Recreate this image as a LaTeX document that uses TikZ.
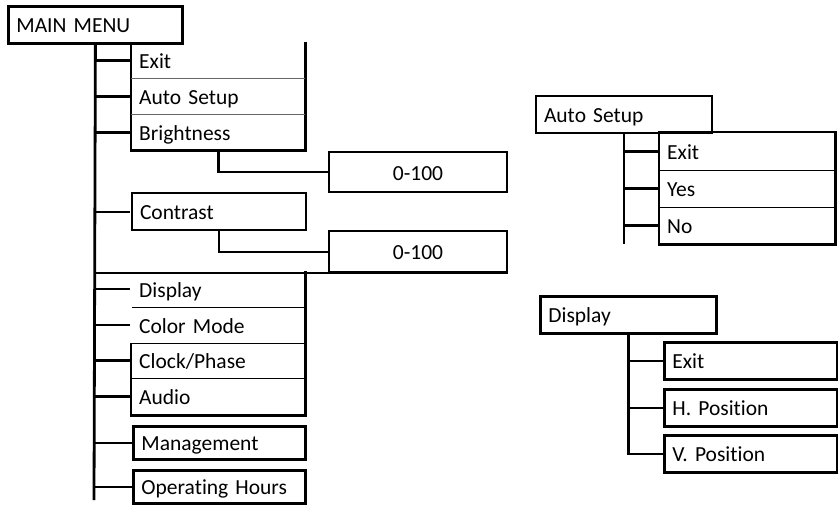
\documentclass[tikz,border=0pt]{standalone}
\usepackage{fontspec}
\setmainfont{Carlito}[Ligatures=NoCommon]
\usepackage{tikz}
\usetikzlibrary{positioning}

\begin{document}
\begin{tikzpicture}[x=1pt,y=-1pt,font=\fontsize{21.5}{24}\selectfont,
		heavy/.style={line width=2.8pt},
		medium/.style={line width=2pt},
		thin sep/.style={line width=1.5pt},
		grey sep/.style={draw=black!60,line width=1.5pt},
		entry/.style={rectangle,anchor=north west,inner xsep=8pt,inner ysep=0pt,text width=158pt,
			text height=18pt,text depth=2pt,minimum height=36pt,align=left}]
			
			\useasboundingbox (0,0) rectangle (838,504);
			
			\node[entry,draw,heavy,minimum height=37pt] (main) at (7,5) {MAIN MENU};
			\coordinate (trunkend) at (94,500);
			\draw[heavy] (main.south) -- (trunkend);
			
			\node[entry] (exit) at (131,42) {Exit};
			\node[entry] (autosetup) at (131,78) {Auto Setup};
			\node[entry] (brightness) at (131,114) {Brightness};
			\draw[heavy] (exit.north west) -- (brightness.south west) -- (brightness.south east) -- (exit.north east);
			\draw[grey sep] (exit.south west) -- (exit.south east);
			\draw[grey sep] (autosetup.south west) -- (autosetup.south east);
			
			\node[entry,draw,medium,text width=162pt,align=center,minimum height=40pt] (brightrange) at (328,151) {0-100};
			\draw[heavy] (brightness.south) -- (brightness.south |- brightrange.west) -- (brightrange.west);
			
			\node[entry,draw,medium,minimum height=37pt] (contrast) at (131,192) {Contrast};
			\node[entry,draw,medium,text width=162pt,align=center,minimum height=41pt] (contrastrange) at (328,230) {0-100};
			\draw[medium] (contrast.south) -- (contrast.south |- contrastrange.west) -- (contrastrange.west);
			\draw[heavy] (main.south |- contrastrange.south) -- (contrastrange.south east);
			
			\node[entry] (display) at (131,271) {Display};
			\node[entry] (colormode) at (131,307) {Color Mode};
			\node[entry,minimum height=35pt] (clockphase) at (131,343) {Clock/Phase};
			\node[entry,minimum height=37pt] (audio) at (131,378) {Audio};
			\draw[heavy] (display.north east) -- (audio.south east) -- (audio.south west) -- (clockphase.north west);
			\draw[thin sep] ([xshift=1pt]display.south west) -- (display.south east);
			\draw[thin sep] (colormode.south west) -- (colormode.south east);
			\draw[thin sep] (clockphase.south west) -- (clockphase.south east);
			
			\node[entry,draw,heavy,text width=156pt,minimum height=33pt] (management) at (132,425) {Management};
			\node[entry,draw,heavy,text width=156pt,minimum height=33pt] (ophours) at (132,469) {Operating Hours};
			
			\foreach \item in {exit,autosetup,brightness,clockphase,audio,management,ophours}
				\draw[heavy] (\item.west -| main.south) -- (\item.west);
			\foreach \item in {contrast,display,colormode}
				\draw[medium] (\item.west -| main.south) -- ([xshift=-1pt]\item.west);
			
			\node[entry,draw,medium,text width=160pt,minimum height=37pt] (autohead) at (535,95) {Auto Setup};
			\node[entry,text width=160pt,minimum height=38pt] (autoexit) at (659,132) {Exit};
			\node[entry,text width=160pt,minimum height=37pt] (autoyes) at (659,170) {Yes};
			\node[entry,text width=160pt,minimum height=37pt] (autono) at (659,207) {No};
			\draw[heavy] (autoexit.north west) rectangle (autono.south east);
			\draw[thin sep] (autoexit.south west) -- (autoexit.south east);
			\draw[thin sep] (autoyes.south west) -- (autoyes.south east);
			\draw[heavy] (autohead.south) -- (autohead.south |- autono.south);
			\foreach \item in {autoexit,autoyes,autono}
				\draw[heavy] (\item.west -| autohead.south) -- (\item.west);
			
			\node[entry,draw,heavy,text width=160pt,minimum height=37pt] (disphead) at (539,295) {Display};
			\node[entry,draw,heavy,text width=157pt,minimum height=37pt] (dispexit) at (663,341) {Exit};
			\node[entry,draw,heavy,text width=157pt,minimum height=37pt] (hpos) at (663,388) {H. Position};
			\node[entry,draw,heavy,text width=157pt,minimum height=37pt] (vpos) at (663,434) {V. Position};
			\draw[heavy] (disphead.south) -- (disphead.south |- vpos.west) -- (vpos.west);
			\foreach \item in {dispexit,hpos}
				\draw[heavy] (\item.west -| disphead.south) -- (\item.west);
			
		\end{tikzpicture}
\end{document}
